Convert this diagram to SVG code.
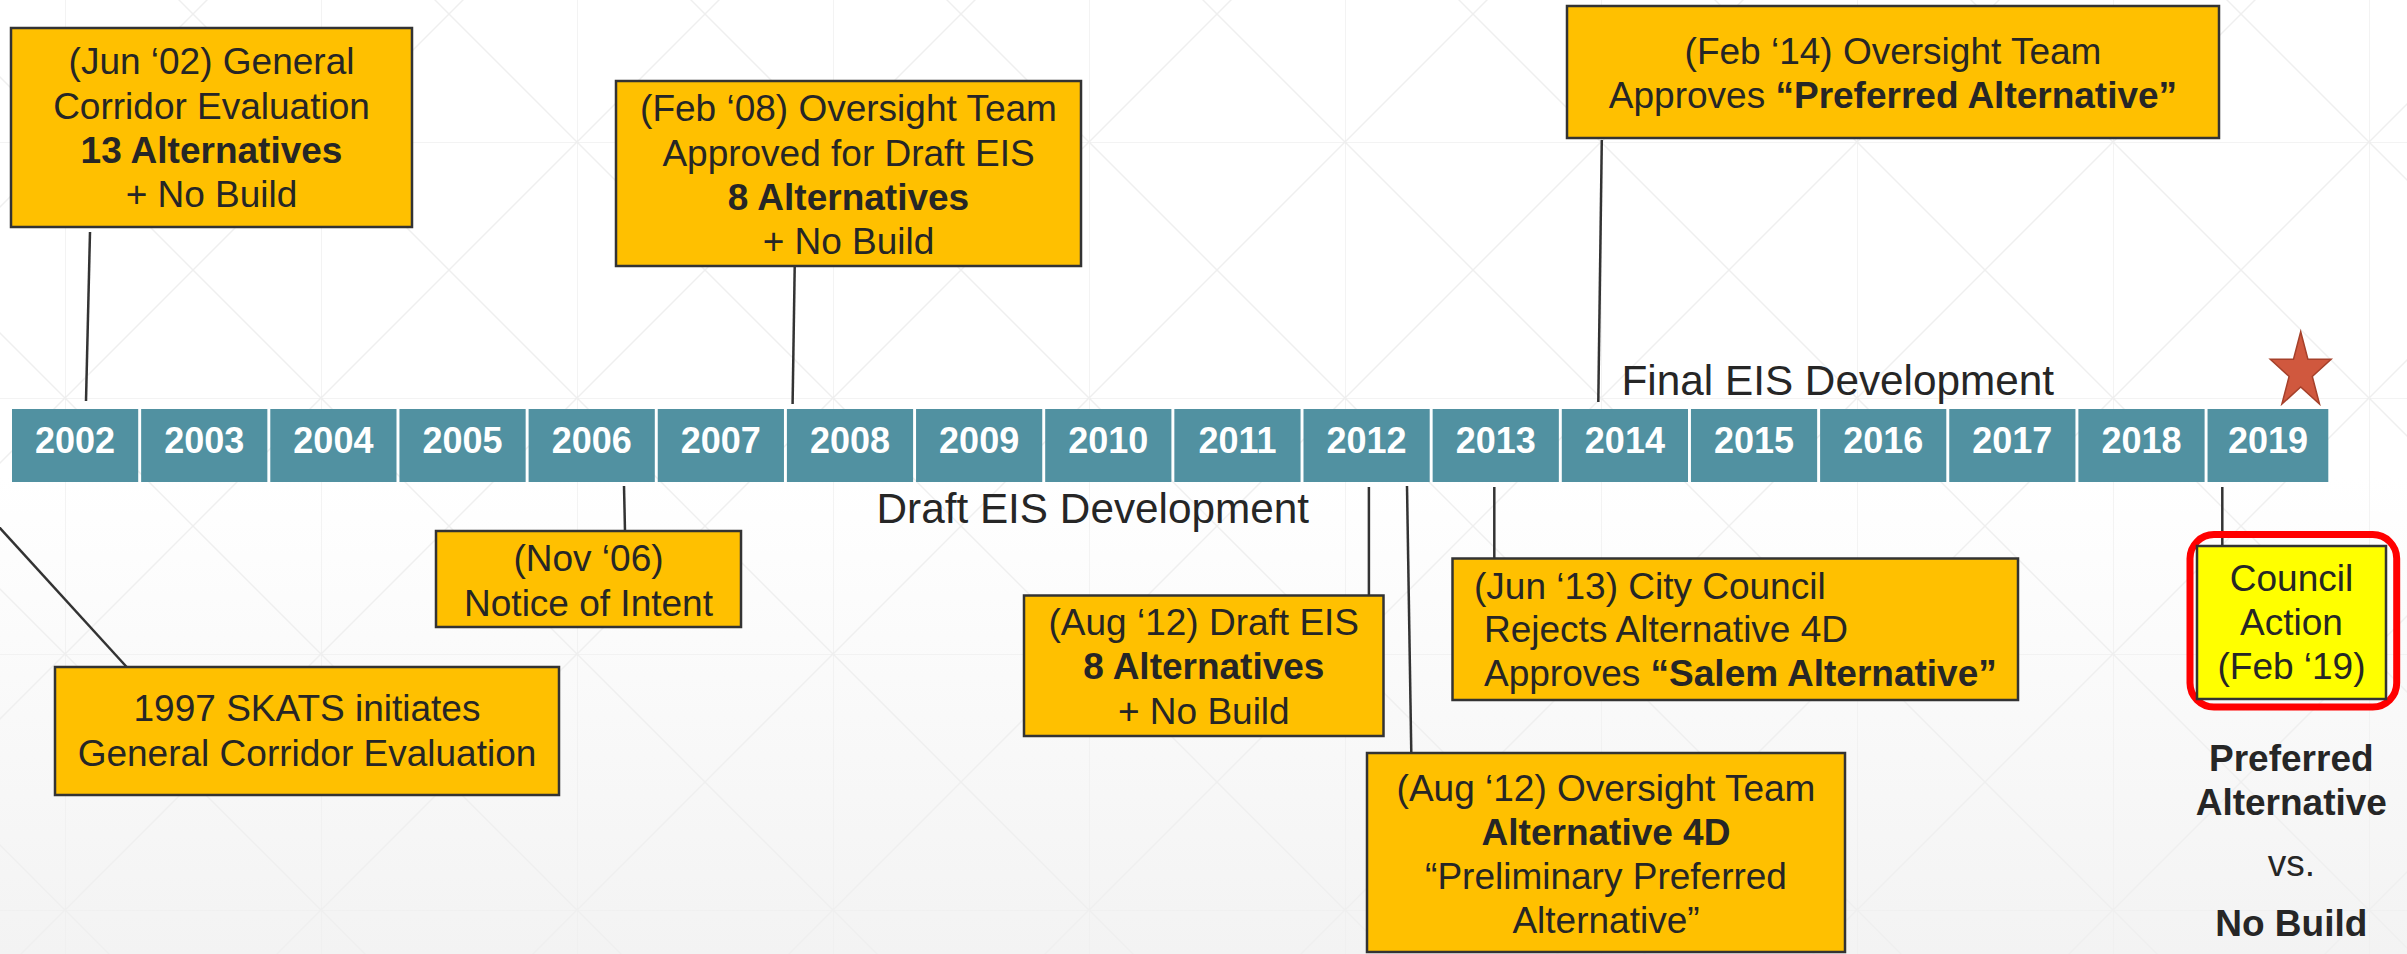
<svg xmlns="http://www.w3.org/2000/svg" width="2407" height="954" viewBox="0 0 2407 954">
<defs>
<linearGradient id="bg" x1="0" y1="0" x2="0" y2="1">
<stop offset="0" stop-color="#FFFFFF"/>
<stop offset="0.5" stop-color="#FFFFFF"/>
<stop offset="1" stop-color="#F3F3F3"/>
</linearGradient>
<pattern id="grid" patternUnits="userSpaceOnUse" x="65" y="142" width="256" height="256">
<path d="M0 0H256M0 0V256M0 0L256 256M256 0L0 256" stroke="#EFEFEF" stroke-width="1.5" fill="none"/>
</pattern>
<style>
.box{fill:#FFC000;stroke:#333333;stroke-width:2.5}
.t{font-family:"Liberation Sans",Arial,sans-serif;font-size:37px;fill:#262626;text-anchor:middle}
.l{text-anchor:start}
.b{font-weight:bold}
.yr{font-family:"Liberation Sans",Arial,sans-serif;font-size:36px;font-weight:bold;fill:#FFFFFF;text-anchor:middle}
.cell{fill:#5191A1}
.phase{font-family:"Liberation Sans",Arial,sans-serif;font-size:42.3px;fill:#262626}
.con{stroke:#333333;stroke-width:2.5;fill:none}
</style>
</defs>
<rect width="2407" height="954" fill="url(#bg)"/>
<rect width="2407" height="954" fill="url(#grid)"/>

<g id="timeline">
<rect class="cell" x="12" y="409" width="126.2" height="73"/>
<rect class="cell" x="141.15" y="409" width="126.2" height="73"/>
<rect class="cell" x="270.3" y="409" width="126.2" height="73"/>
<rect class="cell" x="399.45" y="409" width="126.2" height="73"/>
<rect class="cell" x="528.6" y="409" width="126.2" height="73"/>
<rect class="cell" x="657.75" y="409" width="126.2" height="73"/>
<rect class="cell" x="786.9" y="409" width="126.2" height="73"/>
<rect class="cell" x="916.05" y="409" width="126.2" height="73"/>
<rect class="cell" x="1045.2" y="409" width="126.2" height="73"/>
<rect class="cell" x="1174.35" y="409" width="126.2" height="73"/>
<rect class="cell" x="1303.5" y="409" width="126.2" height="73"/>
<rect class="cell" x="1432.65" y="409" width="126.2" height="73"/>
<rect class="cell" x="1561.8" y="409" width="126.2" height="73"/>
<rect class="cell" x="1690.95" y="409" width="126.2" height="73"/>
<rect class="cell" x="1820.1" y="409" width="126.2" height="73"/>
<rect class="cell" x="1949.25" y="409" width="126.2" height="73"/>
<rect class="cell" x="2078.4" y="409" width="126.2" height="73"/>
<rect class="cell" x="2207.55" y="409" width="120.75" height="73"/>
<text class="yr" x="75.1" y="453">2002</text>
<text class="yr" x="204.25" y="453">2003</text>
<text class="yr" x="333.4" y="453">2004</text>
<text class="yr" x="462.55" y="453">2005</text>
<text class="yr" x="591.7" y="453">2006</text>
<text class="yr" x="720.85" y="453">2007</text>
<text class="yr" x="850" y="453">2008</text>
<text class="yr" x="979.15" y="453">2009</text>
<text class="yr" x="1108.3" y="453">2010</text>
<text class="yr" x="1237.45" y="453">2011</text>
<text class="yr" x="1366.6" y="453">2012</text>
<text class="yr" x="1495.75" y="453">2013</text>
<text class="yr" x="1624.9" y="453">2014</text>
<text class="yr" x="1754.05" y="453">2015</text>
<text class="yr" x="1883.2" y="453">2016</text>
<text class="yr" x="2012.35" y="453">2017</text>
<text class="yr" x="2141.5" y="453">2018</text>
<text class="yr" x="2268" y="453">2019</text>
</g>

<g id="phases">
<text class="phase" x="1621.5" y="395">Final EIS Development</text>
<text class="phase" x="876.5" y="523">Draft EIS Development</text>
</g>

<g id="star">
<polygon points="2300.7,331.7 2307.9,359.3 2331.1,359.3 2312.3,376.4 2319.5,404.1 2300.7,387 2281.9,404.1 2289.1,376.4 2270.3,359.3 2293.5,359.3" fill="#D0583E" stroke="#A5402A" stroke-width="1.5" stroke-linejoin="miter"/>
</g>

<g id="connectors">
<line class="con" x1="90" y1="232" x2="86" y2="401"/>
<line class="con" x1="794.7" y1="267" x2="792.6" y2="404"/>
<line class="con" x1="1601.8" y1="140" x2="1598.3" y2="402"/>
<line class="con" x1="624" y1="486" x2="625" y2="531"/>
<line class="con" x1="-12" y1="515" x2="126.7" y2="667"/>
<line class="con" x1="1368.9" y1="487" x2="1368.9" y2="595"/>
<line class="con" x1="1407" y1="486" x2="1411.3" y2="753"/>
<line class="con" x1="1494.3" y1="487" x2="1494.3" y2="558"/>
<line class="con" x1="2222.3" y1="487" x2="2222.3" y2="546"/>
</g>

<g id="n-jun02">
<rect class="box" x="11" y="28" width="401" height="199"/>
<text class="t" x="211.5" y="74">(Jun ‘02) General</text>
<text class="t" x="211.5" y="118.5">Corridor Evaluation</text>
<text class="t b" x="211.5" y="163">13 Alternatives</text>
<text class="t" x="211.5" y="207">+ No Build</text>
</g>

<g id="n-feb08">
<rect class="box" x="616" y="81" width="465" height="185"/>
<text class="t" x="848.5" y="121">(Feb ‘08) Oversight Team</text>
<text class="t" x="848.5" y="165.5">Approved for Draft EIS</text>
<text class="t b" x="848.5" y="209.5">8 Alternatives</text>
<text class="t" x="848.5" y="254">+ No Build</text>
</g>

<g id="n-feb14">
<rect class="box" x="1567" y="6" width="652" height="132"/>
<text class="t" x="1893" y="64">(Feb ‘14) Oversight Team</text>
<text class="t" x="1893" y="107.5">Approves <tspan class="b">“Preferred Alternative”</tspan></text>
</g>

<g id="n-nov06">
<rect class="box" x="436" y="531" width="305" height="96"/>
<text class="t" x="588.5" y="571">(Nov ‘06)</text>
<text class="t" x="588.5" y="615.5">Notice of Intent</text>
</g>

<g id="n-1997">
<rect class="box" x="55" y="667" width="504" height="128"/>
<text class="t" x="307" y="721">1997 SKATS initiates</text>
<text class="t" x="307" y="766">General Corridor Evaluation</text>
</g>

<g id="n-aug12-deis">
<rect class="box" x="1024" y="595.5" width="359.5" height="140.5"/>
<text class="t" x="1203.8" y="634.5">(Aug ‘12) Draft EIS</text>
<text class="t b" x="1203.8" y="678.5">8 Alternatives</text>
<text class="t" x="1203.8" y="724">+ No Build</text>
</g>

<g id="n-jun13">
<rect class="box" x="1452.5" y="558.5" width="565.5" height="141.5"/>
<text class="t l" x="1474" y="598.5">(Jun ‘13) City Council</text>
<text class="t l" x="1484" y="642">Rejects Alternative 4D</text>
<text class="t l" x="1484" y="686">Approves <tspan class="b">“Salem Alternative”</tspan></text>
</g>

<g id="n-aug12-ot">
<rect class="box" x="1367" y="753" width="478" height="199"/>
<text class="t" x="1606" y="800.5">(Aug ‘12) Oversight Team</text>
<text class="t b" x="1606" y="844.5">Alternative 4D</text>
<text class="t" x="1606" y="889">“Preliminary Preferred</text>
<text class="t" x="1606" y="933">Alternative”</text>
</g>

<g id="n-council">
<rect x="2190" y="534.6" width="206.7" height="172.4" rx="24" ry="24" fill="none" stroke="#FF0000" stroke-width="7"/>
<rect x="2197" y="546" width="189" height="153" fill="#FFFF00" stroke="#333333" stroke-width="2.5"/>
<text class="t" x="2291.5" y="591">Council</text>
<text class="t" x="2291.5" y="635">Action</text>
<text class="t" x="2291.5" y="678.5">(Feb ‘19)</text>
</g>

<g id="outcome">
<text class="t b" x="2291.3" y="770.5">Preferred</text>
<text class="t b" x="2291.3" y="815">Alternative</text>
<text class="t" x="2291.3" y="875.5">vs.</text>
<text class="t b" x="2291.3" y="936">No Build</text>
</g>
</svg>
